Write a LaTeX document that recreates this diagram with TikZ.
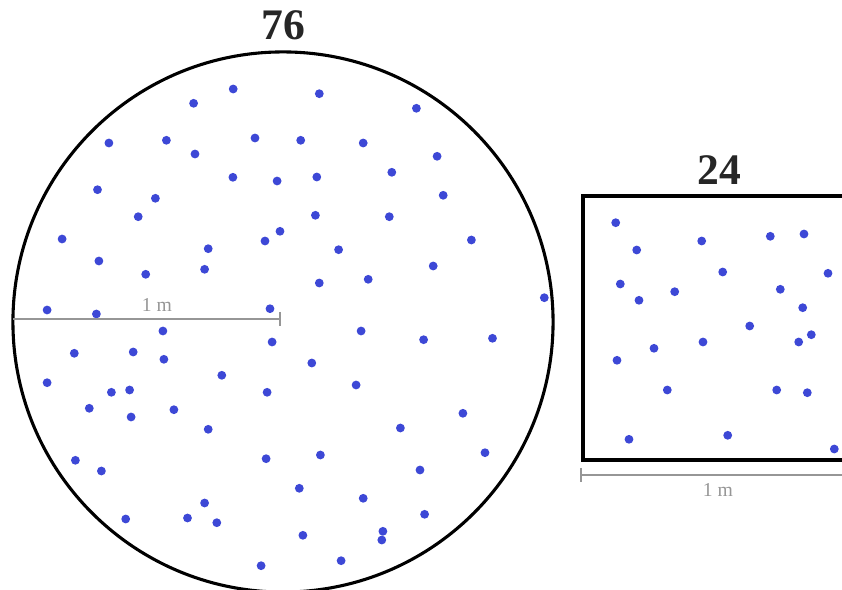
\documentclass[tikz,border=0pt]{standalone}
\usepackage{fontspec}
\setmainfont{Liberation Serif}
\usepackage{xcolor}
\usepackage{tikz}
\usetikzlibrary{positioning}

\definecolor{dotblue}{RGB}{61,72,214}
\definecolor{bargray}{RGB}{150,150,150}

\begin{document}
\begin{tikzpicture}[
    x=0.025cm, y=-0.025cm,
    dot/.style={fill=dotblue, draw=none},
    rim/.style={draw=black, line width=2.2pt},
    bar/.style={draw=bargray, line width=0.9pt},
    cnt/.style={font=\fontsize{31}{31}\selectfont\bfseries, text=black!85, inner sep=0pt, anchor=base},
    lbl/.style={font=\fontsize{14}{14}\selectfont, text=bargray, inner sep=0pt, anchor=base}
]
    \useasboundingbox (0,0) rectangle (842,590);
    \clip (0,0) rectangle (842,590);

    % circle, radius 1 m
    \coordinate (c) at (283,322);
    \draw [rim] (c) circle [radius=6.75cm];
    \node [cnt] (n76) at (283,40) {76};
    \foreach \px/\py in {233.2/89, 193.6/103.3, 319.3/93.7, 416.4/108.3, 108.9/143,
        166.4/140.3, 255/138, 300.7/140.3, 363.2/143, 195/154, 437.1/156.3,
        232.9/177.3, 277.1/181, 316.8/177, 391.8/172.3, 97.5/189.7, 155.4/198.3,
        443.2/195.3, 138.2/216.7, 315.4/215.3, 389.3/216.7, 62.1/239, 280/231.3,
        265/241, 471.4/240, 208.2/248.7, 338.6/249.7, 98.9/261, 204.6/269.3,
        145.7/274.3, 433.2/266, 319.3/283, 368.2/279.3, 544.3/297.7, 47.1/310,
        96.4/314, 270/308.7, 162.9/331, 361.1/331, 423.6/339.7, 492.5/338.3,
        272.1/342, 74.3/353.3, 133.2/352, 163.9/359.3, 311.8/363, 47.1/382.7,
        221.8/375.3, 111.4/392.3, 129.6/390, 267.1/392.3, 356.1/385, 89.3/408.3,
        131.1/417, 173.9/409.7, 208.2/429.3, 400.4/428, 462.9/413.3, 75.4/460.3,
        101.4/471, 266.1/458.7, 320.4/455, 485/452.7, 420/470, 299.3/488.3,
        363.2/498.3, 204.6/503, 424.6/514.3, 125.7/519, 187.5/518, 216.8/522.7,
        302.9/535.3, 382.9/531.3, 381.8/540, 341.1/560.7, 261.1/565.7}
        \fill [dot] (\px,\py) circle [radius=0.11cm];
    \coordinate (cw) at (13,319);
    \coordinate (ce) at (280,319);
    \draw [bar] (cw) -- (ce);
    \draw [bar] ([yshift=0.18cm]ce) -- ([yshift=-0.18cm]ce);
    \node [lbl] (m1) at (157,311.5) {1 m};

    % square, 1 m by 1 m
    \draw [rim, line width=2.8pt] (582.7,195.7) rectangle (848,460);
    \node [cnt] (n24) at (719.5,185) {24};
    \foreach \px/\py in {615.7/222.7, 636.7/250, 701.7/241, 770.3/236.3, 804/234,
        620.3/284, 639/300.3, 674.7/291.7, 722.7/272, 828/273.3, 780.3/289.3,
        802.7/307.7, 749.7/326, 811.3/334.7, 798.7/342, 703/342, 654/348.3,
        617/360.3, 667.3/390, 776.7/390, 807.3/392.7, 629/439.3, 727.7/435.3,
        834.3/449}
        \fill [dot] (\px,\py) circle [radius=0.11cm];
    \coordinate (sw) at (581,475);
    \coordinate (se) at (849,475);
    \draw [bar] (sw) -- (se);
    \draw [bar] ([yshift=0.18cm]sw) -- ([yshift=-0.18cm]sw);
    \node [lbl] (m2) at (718,496.5) {1 m};
\end{tikzpicture}
\end{document}
